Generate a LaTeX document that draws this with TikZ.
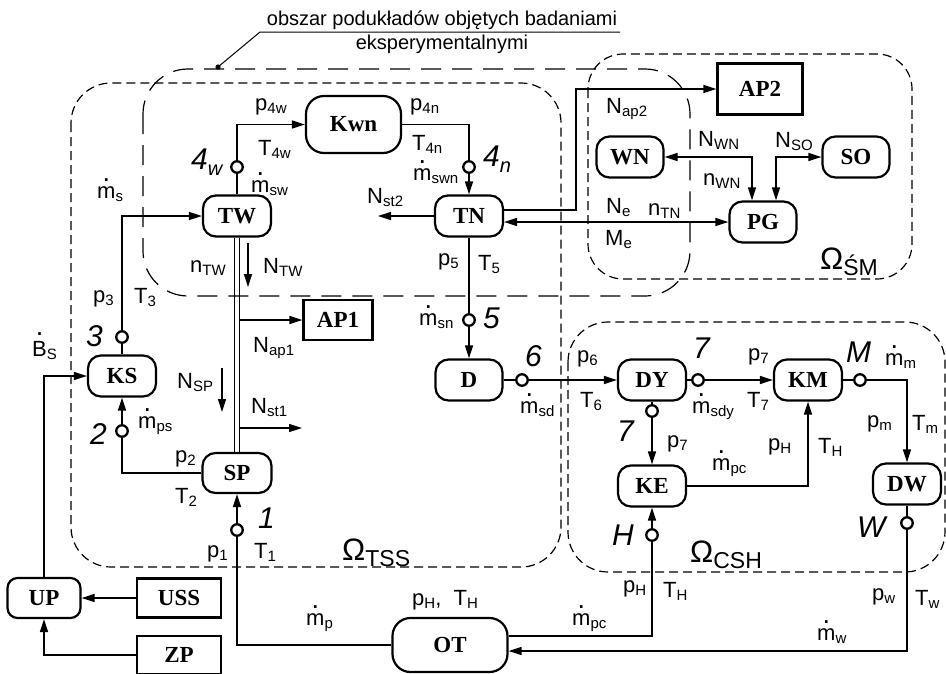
\documentclass[tikz,border=0pt]{standalone}
\usepackage{fontspec}
\setmainfont{Liberation Sans}
\newfontfamily\serifbf{Liberation Serif}
\usetikzlibrary{arrows.meta}
\newcommand\bxf{\serifbf\bfseries\fontsize{23}{23}\selectfont}
\newcommand\lbf{\fontsize{22}{22}\selectfont}
\newcommand\nmf{\itshape\fontsize{30}{30}\selectfont}
\newcommand\ldf{\fontsize{20}{20}\selectfont}
\newcommand\Lsub[1]{\raisebox{-0.17em}{\fontsize{15}{15}\selectfont #1}}
\newcommand\Nsub[1]{\raisebox{-0.2em}{\fontsize{20}{20}\selectfont #1}}
\newcommand\md{\ooalign{m\cr\hidewidth\raisebox{0.76em}{\fontsize{27}{27}\selectfont.}\hidewidth\cr}}
\newcommand\Bd{\ooalign{B\cr\hidewidth\raisebox{0.92em}{\fontsize{27}{27}\selectfont.}\hidewidth\cr}}
\newcommand\Om[1]{{\fontsize{31}{31}\selectfont Ω}\raisebox{-6pt}{\fontsize{23}{23}\selectfont #1}}
\tikzset{
 rb/.style={draw, line width=2.2pt, rounded corners=13pt, minimum width=68pt, minimum height=41pt, inner sep=0pt, font=\bxf},
 sq/.style={draw, line width=2.2pt, inner sep=0pt, font=\bxf},
 pc/.style={circle, draw, line width=2.3pt, fill=white, minimum size=11.5pt, inner sep=0pt},
 con/.style={line width=1.4pt, -{Triangle[length=13pt,width=8pt]}},
 dcon/.style={line width=1.4pt, {Triangle[length=13pt,width=8pt]}-{Triangle[length=13pt,width=8pt]}},
 lb/.style={anchor=base west, inner sep=0pt, font=\lbf},
 nm/.style={anchor=base west, inner sep=0pt, font=\nmf},
 reg/.style={line width=1.2pt, dash pattern=on 9pt off 5pt, rounded corners=40pt},
 expreg/.style={line width=1.2pt, dash pattern=on 20pt off 11pt, rounded corners=45pt},
}
\begin{document}
\begin{tikzpicture}[x=1pt,y=-1pt]
\useasboundingbox (0,0) rectangle (946,673);
% regions
\draw[reg] (71,83) rectangle (561,567);
\draw[expreg] (143,69) rectangle (690,296);
\draw[reg, rounded corners=35pt] (588,54) rectangle (912,279);
\draw[reg] (568,322) rectangle (945,572);
% leader
\node[anchor=base, inner sep=0pt, font=\ldf] (lt1) at (442,25) {obszar podukładów objętych badaniami};
\node[anchor=base, inner sep=0pt, font=\ldf] (lt2) at (442,49) {eksperymentalnymi};
\coordinate (ldot) at (218,67);
\coordinate (lknee) at (260,32);
\coordinate (lend) at (620,32);
\draw[line width=1pt] (ldot) -- (lknee) -- (lend);
\fill (ldot) circle (2.6pt);
% boxes
\node[rb, minimum width=95pt, minimum height=57pt, rounded corners=18pt] (Kwn) at (353.5,124.5) {Kwn};
\node[rb] (TW) at (237,216) {TW};
\node[rb] (TN) at (469,216) {TN};
\node[sq, minimum width=85pt, minimum height=51pt] (AP2) at (760,89) {AP2};
\node[rb, minimum width=67pt] (WN) at (630,157) {WN};
\node[rb, minimum width=67pt] (SO) at (856,157) {SO};
\node[rb, minimum width=67pt] (PG) at (763,222) {PG};
\node[sq, minimum width=69pt, minimum height=40pt] (AP1) at (338,320) {AP1};
\node[rb] (KS) at (122,376) {KS};
\node[rb, minimum width=69pt, minimum height=40pt] (SP) at (237,473) {SP};
\node[rb, minimum width=67pt] (D) at (469,380) {D};
\node[rb] (DY) at (652,380) {DY};
\node[rb] (KM) at (808,380) {KM};
\node[rb] (KE) at (652,486) {KE};
\node[rb] (DW) at (907,484) {DW};
\node[rb, minimum width=73pt, minimum height=40pt, rounded corners=10pt] (UP) at (44,598) {UP};
\node[sq, minimum width=84pt, minimum height=39pt] (USS) at (179,598) {USS};
\node[sq, minimum width=84pt, minimum height=38pt] (ZP) at (179,655) {ZP};
\node[rb, minimum width=115pt, minimum height=54pt, rounded corners=18pt] (OT) at (450,645) {OT};
% connectors
\draw[con] (TW.north) |- (Kwn.west);
\draw[con] (Kwn.east) -| (TN.north);
\coordinate (nst2) at (378,216);
\draw[con] (TN.west) -- (nst2);
\draw[con] (KS.north) |- (TW.west);
\draw[line width=1.2pt] ([xshift=-2.5pt]TW.south) -- ([xshift=-2.5pt]SP.north);
\draw[line width=1.2pt] ([xshift=2.5pt]TW.south) -- ([xshift=2.5pt]SP.north);
\coordinate (s1) at (239.5,320);
\draw[con] (s1) -- (AP1.west);
\coordinate (s2) at (239.5,428);
\coordinate (nst1) at (302,428);
\draw[con] (s2) -- (nst1);
\coordinate (ntwa) at (248,243);
\coordinate (ntwb) at (248,287);
\draw[con, line width=1.2pt] (ntwa) -- (ntwb);
\coordinate (nspa) at (222,368);
\coordinate (nspb) at (222,412);
\draw[con, line width=1.2pt] (nspa) -- (nspb);
\draw[con] (SP.west) -| (KS.south);
\draw[con] (OT.west) -| (SP.south);
\draw[con] (TN.south) -- (D.north);
\draw[con] (D.east) -- (DY.west);
\draw[con] (DY.east) -- (KM.west);
\draw[con] (DY.south) -- (KE.north);
\draw[con] (KE.east) -| (KM.south);
\draw[con] (KM.east) -| (DW.north);
\draw[con] ([yshift=9pt]OT.east) -| (KE.south);
\draw[con] (DW.south) |- ([yshift=-6pt]OT.east);
\draw[con] (UP.north) |- (KS.west);
\draw[con] (USS.west) -- (UP.east);
\draw[con] (ZP.west) -| (UP.south);
\draw[con] ([yshift=6pt]TN.east) -- ++(72,0) |- (AP2.west);
\draw[dcon] ([yshift=-6pt]TN.east) -- (PG.west);
\draw[dcon] (WN.east) -| ([xshift=-11pt]PG.north);
\draw[dcon] (SO.west) -| ([xshift=13pt]PG.north);
% points
\node[pc] (c4w) at (237,167) {};
\node[pc] (c4n) at (469,167) {};
\node[pc] (c3) at (122,337) {};
\node[pc] (c2) at (122,431) {};
\node[pc] (c1) at (237,530) {};
\node[pc] (c5) at (469,320) {};
\node[pc] (c6) at (522,380) {};
\node[pc] (c7) at (698,380) {};
\node[pc] (c7b) at (652,411) {};
\node[pc] (cM) at (860,380) {};
\node[pc] (cH) at (652,535) {};
\node[pc] (cW) at (907,523) {};
% labels
\node[lb] (t1) at (255,110) {p\Lsub{4w}};
\node[lb] (t2) at (410,110) {p\Lsub{4n}};
\node[lb] (t3) at (412,150) {T\Lsub{4n}};
\node[lb] (t4) at (258,155) {T\Lsub{4w}};
\node[lb] (t5) at (251,192) {\md\Lsub{sw}};
\node[lb] (t6) at (413,180) {\md\Lsub{swn}};
\node[lb] (t7) at (97,198) {\md\Lsub{s}};
\node[lb] (t8) at (367,203) {N\Lsub{st2}};
\node[lb] (t9) at (190,272) {n\Lsub{TW}};
\node[lb] (t10) at (263,273) {N\Lsub{TW}};
\node[lb] (t11) at (93,302) {p\Lsub{3}};
\node[lb] (t12) at (134,303) {T\Lsub{3}};
\node[lb] (t13) at (438,265) {p\Lsub{5}};
\node[lb] (t14) at (478,270) {T\Lsub{5}};
\node[lb] (t15) at (606,113) {N\Lsub{ap2}};
\node[lb] (t16) at (698,146) {N\Lsub{WN}};
\node[lb] (t17) at (703,185) {n\Lsub{WN}};
\node[lb] (t18) at (775,147) {N\Lsub{SO}};
\node[lb] (t19) at (606,213) {N\Lsub{e}};
\node[lb] (t20) at (648,215) {n\Lsub{TN}};
\node[lb] (t21) at (605,245) {M\Lsub{e}};
\node[lb] (t22) at (32,356) {\Bd\Lsub{S}};
\node[lb] (t23) at (138,428) {\md\Lsub{ps}};
\node[lb] (t24) at (177,388) {N\Lsub{SP}};
\node[lb] (t25) at (253,352) {N\Lsub{ap1}};
\node[lb] (t26) at (251,413) {N\Lsub{st1}};
\node[lb] (t27) at (175,462) {p\Lsub{2}};
\node[lb] (t28) at (175,503) {T\Lsub{2}};
\node[lb] (t29) at (207,557) {p\Lsub{1}};
\node[lb] (t30) at (254,558) {T\Lsub{1}};
\node[lb] (t31) at (306,625) {\md\Lsub{p}};
\node[lb] (t32) at (412,605) {p\Lsub{H},\ \ T\Lsub{H}};
\node[lb] (t33) at (419,325) {\md\Lsub{sn}};
\node[lb] (t34) at (520,413) {\md\Lsub{sd}};
\node[lb] (t35) at (577,362) {p\Lsub{6}};
\node[lb] (t36) at (580,407) {T\Lsub{6}};
\node[lb] (t37) at (692,413) {\md\Lsub{sdy}};
\node[lb] (t38) at (748,360) {p\Lsub{7}};
\node[lb] (t39) at (747,407) {T\Lsub{7}};
\node[lb] (t40) at (885,365) {\md\Lsub{m}};
\node[lb] (t41) at (667,447) {p\Lsub{7}};
\node[lb] (t42) at (712,470) {\md\Lsub{pc}};
\node[lb] (t43) at (768,450) {p\Lsub{H}};
\node[lb] (t44) at (818,453) {T\Lsub{H}};
\node[lb] (t45) at (867,427) {p\Lsub{m}};
\node[lb] (t46) at (912,430) {T\Lsub{m}};
\node[lb] (t47) at (623,592) {p\Lsub{H}};
\node[lb] (t48) at (663,597) {T\Lsub{H}};
\node[lb] (t49) at (572,625) {\md\Lsub{pc}};
\node[lb] (t50) at (872,600) {p\Lsub{w}};
\node[lb] (t51) at (915,605) {T\Lsub{w}};
\node[lb] (t52) at (817,640) {\md\Lsub{w}};
% point numbers
\node[nm] (n4w) at (191,169) {4\Nsub{w}};
\node[nm] (n4n) at (483,166) {4\Nsub{n}};
\node[nm] (n3) at (86,346) {3};
\node[nm] (n2) at (90,444) {2};
\node[nm] (n1) at (258,528) {1};
\node[nm] (n5) at (483,328) {5};
\node[nm] (n6) at (525,366) {6};
\node[nm] (n7) at (693,358) {7};
\node[nm] (n7b) at (617,441) {7};
\node[nm] (nM) at (846,362) {M};
\node[nm] (nH) at (612,545) {H};
\node[nm] (nW) at (857,537) {W};
% omega labels
\node[lb] (oTSS) at (342,560) {\Om{TSS}};
\node[lb] (oSM) at (820,269) {\Om{ŚM}};
\node[lb] (oCSH) at (690,562) {\Om{CSH}};
\end{tikzpicture}
\end{document}
